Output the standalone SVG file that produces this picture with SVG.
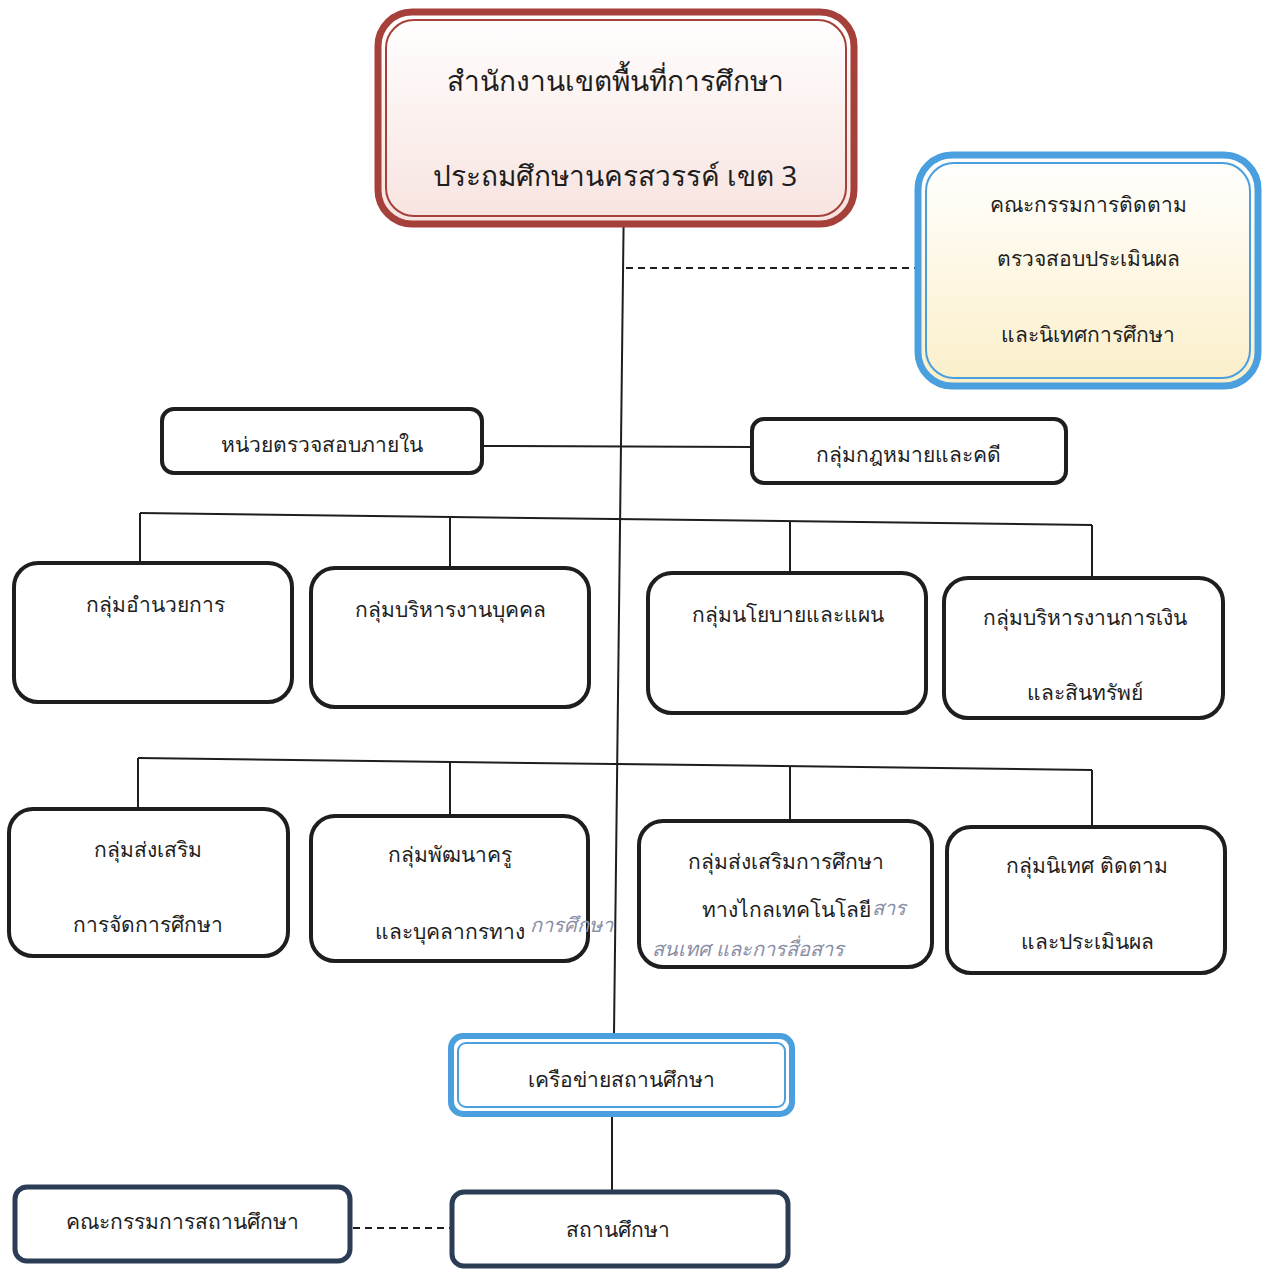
<svg xmlns="http://www.w3.org/2000/svg" width="1276" height="1270" viewBox="0 0 1276 1270">
<defs>
<linearGradient id="gRed" x1="0" y1="0" x2="0" y2="1">
<stop offset="0" stop-color="#ffffff"/><stop offset="1" stop-color="#f7e3df"/>
</linearGradient>
<linearGradient id="gBlue" x1="0" y1="0" x2="0" y2="1">
<stop offset="0" stop-color="#ffffff"/><stop offset="1" stop-color="#fbefc9"/>
</linearGradient>
<style>
text{font-family:"Noto Sans","DejaVu Sans",sans-serif;fill:#1e1e1e;text-anchor:middle;}
.t22{font-size:21px;}
.t28{font-size:28px;}
.box{fill:#ffffff;stroke:#1e1e1e;stroke-width:4;}
.navy{fill:#ffffff;stroke:#2b3d55;stroke-width:5;}
.line{stroke:#1e1e1e;stroke-width:2;fill:none;}
.dash{stroke:#1e1e1e;stroke-width:2;fill:none;stroke-dasharray:7,5;}
.hand{font-family:"Liberation Serif",serif;font-style:italic;fill:#8a8fa8;font-size:20px;text-anchor:start;}
</style>
</defs>
<g id="connectors">
<path class="line" d="M624,190 L614,1034"/>
<path class="dash" d="M626,268 L917,268"/>
<path class="line" d="M483,446 L751,447"/>
<path class="line" d="M140,513 L1092,525"/>
<path class="line" d="M140,513 L140,562 M450,517 L450,568 M790,521 L790,573 M1092,525 L1092,578"/>
<path class="line" d="M138,758 L1092,770"/>
<path class="line" d="M138,758 L138,808 M450,762 L450,815 M790,766 L790,820 M1092,770 L1092,826"/>
<path class="line" d="M612,1116 L612,1191"/>
<path class="dash" d="M353,1228 L450,1228"/>
</g>
<g id="n-office">
<rect x="378" y="12" width="476" height="212" rx="34" fill="url(#gRed)" stroke="#a6403b" stroke-width="7"/>
<rect x="386" y="20" width="460" height="196" rx="28" fill="none" stroke="#a6403b" stroke-width="2"/>
<text class="t28" x="615" y="91">สำนักงานเขตพื้นที่การศึกษา</text>
<text class="t28" x="615" y="186">ประถมศึกษานครสวรรค์ เขต 3</text>
</g>
<g id="n-committee">
<rect x="918" y="155" width="340" height="231" rx="34" fill="url(#gBlue)" stroke="#4a9fdf" stroke-width="7"/>
<rect x="926" y="163" width="324" height="215" rx="28" fill="none" stroke="#4a9fdf" stroke-width="2"/>
<text class="t22" x="1088" y="212">คณะกรรมการติดตาม</text>
<text class="t22" x="1088" y="266">ตรวจสอบประเมินผล</text>
<text class="t22" x="1088" y="342">และนิเทศการศึกษา</text>
</g>
<g id="n-audit">
<rect class="box" x="162" y="409" width="320" height="64" rx="12"/>
<text class="t22" x="322" y="452">หน่วยตรวจสอบภายใน</text>
</g>
<g id="n-law">
<rect class="box" x="752" y="419" width="314" height="64" rx="12"/>
<text class="t22" x="908" y="462">กลุ่มกฎหมายและคดี</text>
</g>
<g id="n-admin">
<rect class="box" x="14" y="563" width="278" height="139" rx="24"/>
<text class="t22" x="155" y="612">กลุ่มอำนวยการ</text>
</g>
<g id="n-personnel">
<rect class="box" x="311" y="568" width="278" height="139" rx="24"/>
<text class="t22" x="450" y="617">กลุ่มบริหารงานบุคคล</text>
</g>
<g id="n-policy">
<rect class="box" x="648" y="573" width="278" height="140" rx="24"/>
<text class="t22" x="788" y="622">กลุ่มนโยบายและแผน</text>
</g>
<g id="n-finance">
<rect class="box" x="944" y="578" width="279" height="140" rx="24"/>
<text class="t22" x="1085" y="625">กลุ่มบริหารงานการเงิน</text>
<text class="t22" x="1085" y="700">และสินทรัพย์</text>
</g>
<g id="n-promote">
<rect class="box" x="9" y="809" width="279" height="147" rx="24"/>
<text class="t22" x="148" y="857">กลุ่มส่งเสริม</text>
<text class="t22" x="148" y="932">การจัดการศึกษา</text>
</g>
<g id="n-teacher">
<rect class="box" x="311" y="816" width="277" height="145" rx="24"/>
<text class="t22" x="450" y="862">กลุ่มพัฒนาครู</text>
<text class="t22" x="450" y="939">และบุคลากรทาง</text>
<text class="hand" x="530" y="932">การศึกษา</text>
</g>
<g id="n-distance">
<rect class="box" x="639" y="821" width="293" height="146" rx="24"/>
<text class="t22" x="786" y="869">กลุ่มส่งเสริมการศึกษา</text>
<text class="t22" x="786" y="917">ทางไกลเทคโนโลยี</text>
<text class="hand" x="872" y="915">สาร</text>
<text class="hand" x="652" y="956">สนเทศ และการสื่อสาร</text>
</g>
<g id="n-supervision">
<rect class="box" x="947" y="827" width="278" height="146" rx="24"/>
<text class="t22" x="1087" y="873">กลุ่มนิเทศ ติดตาม</text>
<text class="t22" x="1087" y="949">และประเมินผล</text>
</g>
<g id="n-network">
<rect x="451" y="1036" width="341" height="78" rx="12" fill="#ffffff" stroke="#4a9fdf" stroke-width="6"/>
<rect x="458" y="1043" width="327" height="64" rx="8" fill="none" stroke="#4a9fdf" stroke-width="2"/>
<text class="t22" x="621" y="1087">เครือข่ายสถานศึกษา</text>
</g>
<g id="n-board">
<rect class="navy" x="15" y="1187" width="335" height="74" rx="12"/>
<text class="t22" x="182" y="1229">คณะกรรมการสถานศึกษา</text>
</g>
<g id="n-school">
<rect class="navy" x="452" y="1192" width="336" height="74" rx="12"/>
<text class="t22" x="618" y="1237">สถานศึกษา</text>
</g>
</svg>
